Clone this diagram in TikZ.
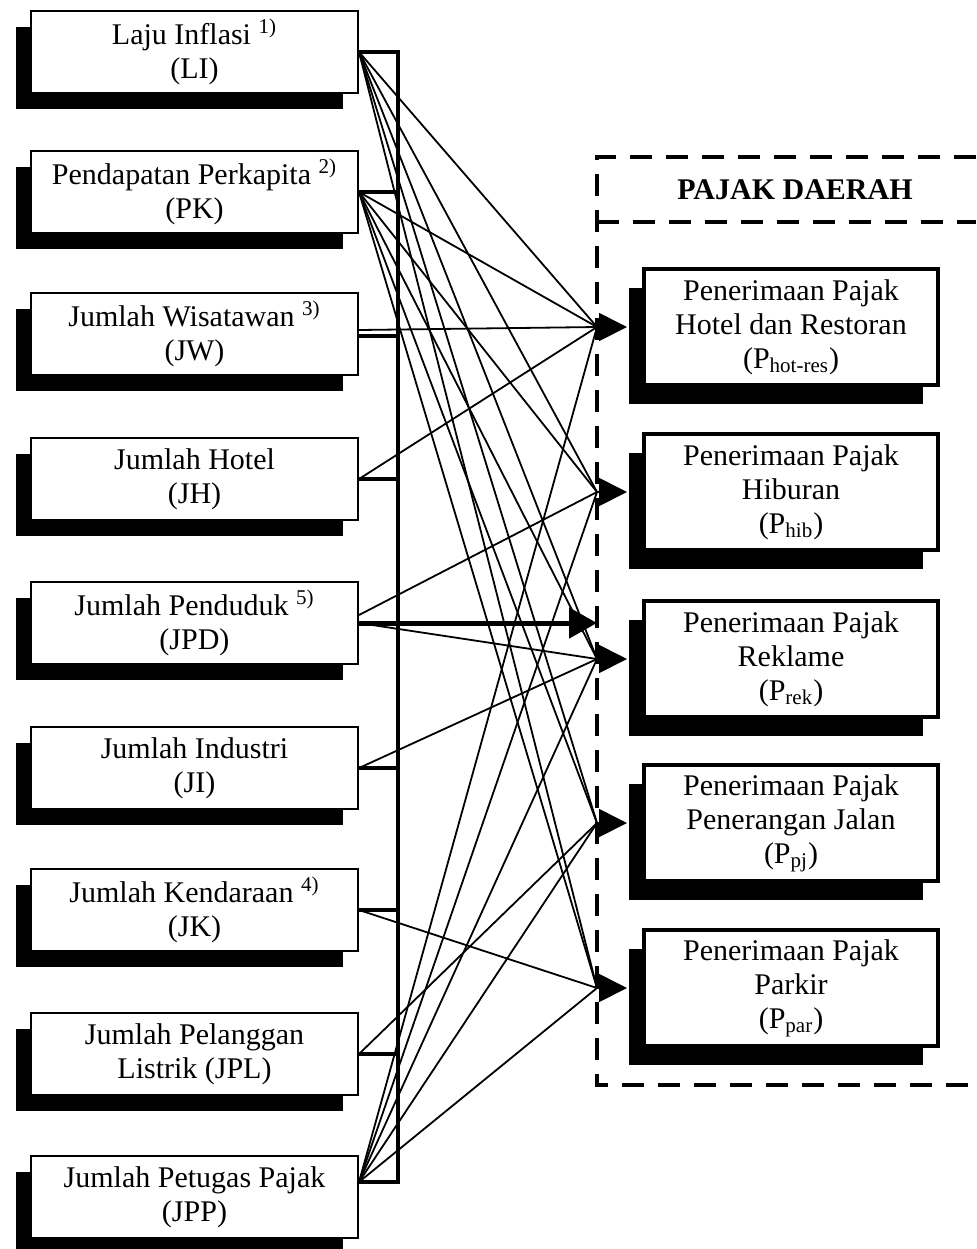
\documentclass[tikz,border=0pt]{standalone}
\usepackage{fontspec}
\setmainfont{Liberation Serif}
\usetikzlibrary{arrows.meta}
\usetikzlibrary{shadows}

\begin{document}
\begin{tikzpicture}[x=0.5pt,y=-0.5pt,font=\fontsize{15}{17}\selectfont,
    src/.style={draw,line width=1pt,fill=white,minimum width=163.5pt,minimum height=41pt,
        align=center,inner sep=1pt,
        general shadow={fill=black,shadow xshift=-7.5pt,shadow yshift=-8pt}},
    tgt/.style={draw,line width=2pt,fill=white,minimum width=147pt,minimum height=58pt,
        align=center,inner sep=1pt,
        general shadow={fill=black,shadow xshift=-7.5pt,shadow yshift=-9.5pt}},
    ln/.style={line width=0.9pt},
    stub/.style={line width=2pt},
    arr/.style={line width=0.9pt,-{Triangle[length=14pt,width=14pt]}},
    frame/.style={line width=2pt,dash pattern=on 11pt off 7pt}]
    \useasboundingbox (0,0) rectangle (976,1249);

    \node[src] (LI) at (194.5,52) {Laju Inflasi \textsuperscript{1)}\\(LI)};
    \node[src] (PK) at (194.5,192) {Pendapatan Perkapita \textsuperscript{2)}\\(PK)};
    \node[src] (JW) at (194.5,334) {Jumlah Wisatawan \textsuperscript{3)}\\(JW)};
    \node[src] (JH) at (194.5,479) {Jumlah Hotel\\(JH)};
    \node[src] (JPD) at (194.5,623) {Jumlah Penduduk \textsuperscript{5)}\\(JPD)};
    \node[src] (JI) at (194.5,768) {Jumlah Industri\\(JI)};
    \node[src] (JK) at (194.5,910) {Jumlah Kendaraan \textsuperscript{4)}\\(JK)};
    \node[src] (JPL) at (194.5,1054) {Jumlah Pelanggan\\Listrik (JPL)};
    \node[src] (JPP) at (194.5,1197) {Jumlah Petugas Pajak\\(JPP)};
    \coordinate (jpp) at ([yshift=7.5pt]JPP.east);

    \draw[frame] (976,157) -| (597,1085) -- (976,1085);
    \draw[frame] (597,222) -- (976,222);
    \coordinate (pdl) at (597,157);
    \node[font=\fontsize{15}{17}\selectfont\bfseries] (pd) at (795,190) {PAJAK DAERAH};

    \node[tgt] (Phr) at (791,327) {Penerimaan Pajak\\Hotel dan Restoran\\(P\textsubscript{hot-res})};
    \node[tgt] (Phib) at (791,492) {Penerimaan Pajak\\Hiburan\\(P\textsubscript{hib})};
    \node[tgt] (Prek) at (791,659) {Penerimaan Pajak\\Reklame\\(P\textsubscript{rek})};
    \node[tgt] (Ppj) at (791,823) {Penerimaan Pajak\\Penerangan Jalan\\(P\textsubscript{pj})};
    \node[tgt] (Ppar) at (791,988) {Penerimaan Pajak\\Parkir\\(P\textsubscript{par})};

    \coordinate (h1) at ([xshift=-22.5pt]Phr.west);
    \coordinate (h2) at ([xshift=-22.5pt]Phib.west);
    \coordinate (h3) at ([xshift=-22.5pt]Prek.west);
    \coordinate (h4) at ([xshift=-22.5pt]Ppj.west);
    \coordinate (h5) at ([xshift=-22.5pt]Ppar.west);

    \draw[stub] (LI.east) -- ++(39,0) |- (jpp);
    \draw[stub] (PK.east) -- ++(39,0);
    \draw[stub] ([yshift=-1pt]JW.east) -- ++(39,0);
    \draw[stub] (JH.east) -- ++(39,0);
    \draw[stub] (JI.east) -- ++(39,0);
    \draw[stub] (JK.east) -- ++(39,0);
    \draw[stub] (JPL.east) -- ++(39,0);

    \draw[ln] (LI.east) -- (h1);
    \draw[ln] (LI.east) -- (h2);
    \draw[ln] (LI.east) -- (h3);
    \draw[ln] (LI.east) -- (h4);
    \draw[ln] (LI.east) -- (h5);
    \draw[ln] (PK.east) -- (h1);
    \draw[ln] (PK.east) -- (h2);
    \draw[ln] (PK.east) -- (h3);
    \draw[ln] (PK.east) -- (h4);
    \draw[ln] (PK.east) -- (h5);
    \draw[ln] ([yshift=2pt]JW.east) -- (h1);
    \draw[ln] (JH.east) -- (h1);
    \draw[ln] ([yshift=4pt]JPD.east) -- (h2);
    \draw[ln] (JPD.east) -- (h3);
    \draw[ln] (JI.east) -- (h3);
    \draw[ln] (JK.east) -- (h5);
    \draw[ln] (JPL.east) -- (h4);
    \draw[ln] (jpp) -- (h1);
    \draw[ln] (jpp) -- (h2);
    \draw[ln] (jpp) -- (h3);
    \draw[ln] (jpp) -- (h4);
    \draw[ln] (jpp) -- (h5);

    \draw[line width=2.5pt,-{Triangle[length=14pt,width=15pt]}] (JPD.east) -- (JPD.east -| pdl);

    \draw[arr] (h1) -- ([xshift=-7.5pt]Phr.west);
    \draw[arr] (h2) -- ([xshift=-7.5pt]Phib.west);
    \draw[arr] (h3) -- ([xshift=-7.5pt]Prek.west);
    \draw[arr] (h4) -- ([xshift=-7.5pt]Ppj.west);
    \draw[arr] (h5) -- ([xshift=-7.5pt]Ppar.west);
\end{tikzpicture}
\end{document}
